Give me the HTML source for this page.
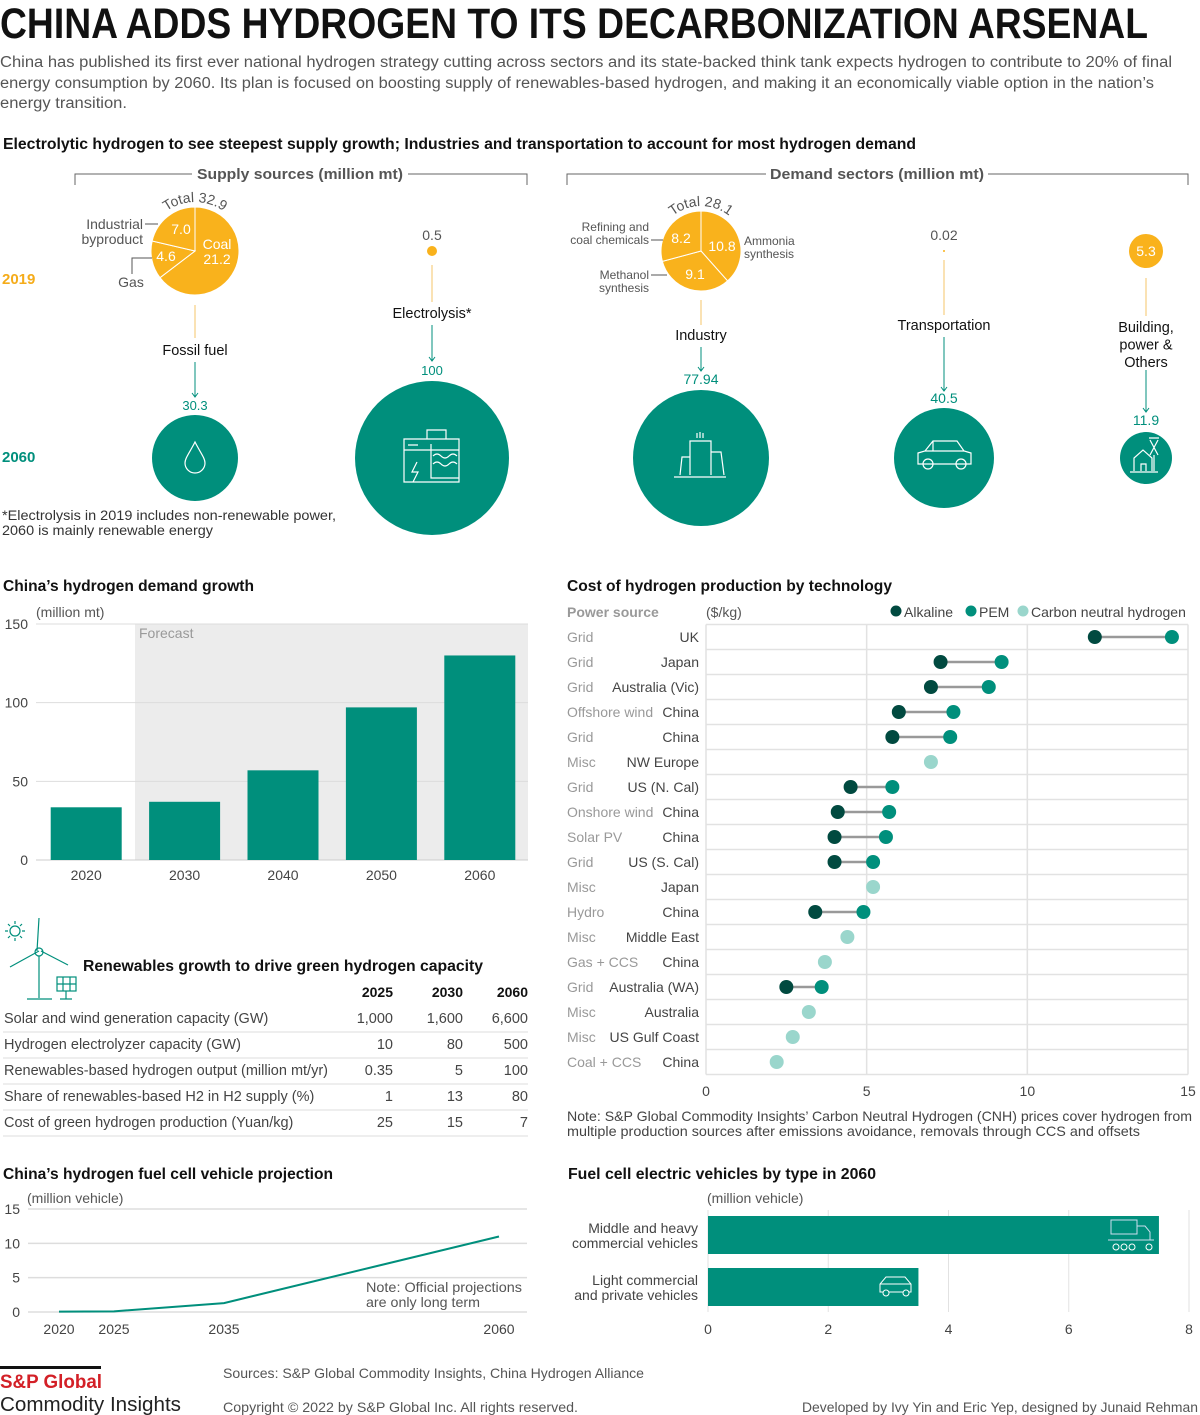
<!DOCTYPE html>
<html><head><meta charset="utf-8"><title>China adds hydrogen</title>
<style>
html,body{margin:0;padding:0;background:#fff;}
svg{display:block;font-family:"Liberation Sans",sans-serif;}
.b{font-weight:bold}
</style></head>
<body>
<svg id="root" width="1200" height="1415" viewBox="0 0 1200 1415" xmlns="http://www.w3.org/2000/svg">
<!-- Header -->
<text x="0" y="38" font-size="43" font-weight="bold" fill="#111" textLength="1148" lengthAdjust="spacingAndGlyphs">CHINA ADDS HYDROGEN TO ITS DECARBONIZATION ARSENAL</text>
<g font-size="15.5" fill="#555">
<text x="0" y="67" textLength="1172" lengthAdjust="spacingAndGlyphs">China has published its first ever national hydrogen strategy cutting across sectors and its state-backed think tank expects hydrogen to contribute to 20% of final</text>
<text x="0" y="88" textLength="1154" lengthAdjust="spacingAndGlyphs">energy consumption by 2060. Its plan is focused on boosting supply of renewables-based hydrogen, and making it an economically viable option in the nation’s</text>
<text x="0" y="108" textLength="127" lengthAdjust="spacingAndGlyphs">energy transition.</text>
</g>
<text x="3" y="149" font-size="15.5" font-weight="bold" fill="#111" textLength="913" lengthAdjust="spacingAndGlyphs">Electrolytic hydrogen to see steepest supply growth; Industries and transportation to account for most hydrogen demand</text>

<!-- brackets -->
<g stroke="#666" stroke-width="1" fill="none">
<path d="M75 185 V174 H192 M408 174 H527 V185"/>
</g>
<text x="300" y="179" font-size="15" font-weight="bold" fill="#555" text-anchor="middle" textLength="206" lengthAdjust="spacingAndGlyphs">Supply sources (million mt)</text>
<g stroke="#666" stroke-width="1" fill="none">
<path d="M567 185 V174 H766 M988 174 H1188 V185"/>
</g>
<text x="877" y="179" font-size="15" font-weight="bold" fill="#555" text-anchor="middle" textLength="214" lengthAdjust="spacingAndGlyphs">Demand sectors (million mt)</text>

<text x="2" y="284" font-size="15" font-weight="bold" fill="#f5ac1a">2019</text>
<text x="2" y="462" font-size="15" font-weight="bold" fill="#008f7c">2060</text>

<g id="pies"></g>
<g id="flows"></g>

<g font-size="14" fill="#333">
<text x="2" y="520" textLength="334" lengthAdjust="spacingAndGlyphs">*Electrolysis in 2019 includes non-renewable power,</text>
<text x="2" y="535" textLength="211" lengthAdjust="spacingAndGlyphs">2060 is mainly renewable energy</text>
</g>

<!-- Demand growth bar chart -->
<text x="3" y="591" font-size="15.5" font-weight="bold" fill="#111" textLength="251" lengthAdjust="spacingAndGlyphs">China’s hydrogen demand growth</text>
<text x="36" y="617" font-size="14" fill="#555">(million mt)</text>
<g id="barchart"></g>

<!-- Renewables table -->
<g stroke="#008f7c" stroke-width="1.2" fill="none">
<circle cx="15" cy="931" r="5"/>
<path d="M15 921v3M15 938v3M5 931h3M22 931h3M8 924l2 2M20 936l2 2M8 938l2-2M20 926l2-2"/>
<path d="M39 918 L37 951 M39 951 L10 967 M41 951 L68 965 M39 956 V998 M27 999 H52"/>
<circle cx="39" cy="952" r="4"/>
<rect x="57" y="977" width="19" height="14"/><path d="M63 977v14M70 977v14M57 984h19M66 991v8M60 999h12"/>
</g>
<text x="83" y="971" font-size="15.5" font-weight="bold" fill="#111" textLength="400" lengthAdjust="spacingAndGlyphs">Renewables growth to drive green hydrogen capacity</text>
<g id="table"></g>

<!-- Cost chart -->
<text x="567" y="591" font-size="15.5" font-weight="bold" fill="#111" textLength="325" lengthAdjust="spacingAndGlyphs">Cost of hydrogen production by technology</text>
<g id="costchart"></g>
<g font-size="14" fill="#444">
<text x="567" y="1121" textLength="625" lengthAdjust="spacingAndGlyphs">Note: S&amp;P Global Commodity Insights’ Carbon Neutral Hydrogen (CNH) prices cover hydrogen from</text>
<text x="567" y="1136" textLength="573" lengthAdjust="spacingAndGlyphs">multiple production sources after emissions avoidance, removals through CCS and offsets</text>
</g>

<!-- Line chart -->
<text x="3" y="1179" font-size="15.5" font-weight="bold" fill="#111" textLength="330" lengthAdjust="spacingAndGlyphs">China’s hydrogen fuel cell vehicle projection</text>
<text x="27" y="1203" font-size="14" fill="#555">(million vehicle)</text>
<g id="linechart"></g>
<g font-size="14" fill="#555">
<text x="366" y="1292" textLength="156" lengthAdjust="spacingAndGlyphs">Note: Official projections</text>
<text x="366" y="1307" textLength="114" lengthAdjust="spacingAndGlyphs">are only long term</text>
</g>

<!-- FCEV bars -->
<text x="568" y="1179" font-size="15.5" font-weight="bold" fill="#111" textLength="308" lengthAdjust="spacingAndGlyphs">Fuel cell electric vehicles by type in 2060</text>
<text x="707" y="1203" font-size="14" fill="#555">(million vehicle)</text>
<g id="fcevchart"></g>

<!-- Footer -->
<rect x="0" y="1366" width="101" height="3" fill="#111"/>
<text x="0" y="1388" font-size="19" font-weight="bold" fill="#d32027" textLength="102" lengthAdjust="spacingAndGlyphs">S&amp;P Global</text>
<text x="0" y="1411" font-size="20" fill="#222" textLength="181" lengthAdjust="spacingAndGlyphs">Commodity Insights</text>
<text x="223" y="1378" font-size="14" fill="#555" textLength="421" lengthAdjust="spacingAndGlyphs">Sources: S&amp;P Global Commodity Insights, China Hydrogen Alliance</text>
<text x="223" y="1412" font-size="14" fill="#555" textLength="355" lengthAdjust="spacingAndGlyphs">Copyright © 2022 by S&amp;P Global Inc. All rights reserved.</text>
<text x="1198" y="1412" font-size="14" fill="#555" text-anchor="end" textLength="396" lengthAdjust="spacingAndGlyphs">Developed by Ivy Yin and Eric Yep, designed by Junaid Rehman</text>
</svg>

<script>
// ===== Data =====
const supplyLabels = ["Coal","Gas","Industrial byproduct"];
const supplyValues = [21.2, 4.6, 7.0];
const demandLabels = ["Ammonia synthesis","Methanol synthesis","Refining and coal chemicals"];
const demandValues = [10.8, 9.1, 8.2];
const demandYears = ["2020","2030","2040","2050","2060"];
const demandTotals = [33.5, 37, 57, 97, 130];
const demandTicks = [0, 50, 100, 150];
const costCountries = ["UK","Japan","Australia (Vic)","China","China","NW Europe","US (N. Cal)","China","China","US (S. Cal)","Japan","China","Middle East","China","Australia (WA)","Australia","US Gulf Coast","China"];
const costSources = ["Grid","Grid","Grid","Offshore wind","Grid","Misc","Grid","Onshore wind","Solar PV","Grid","Misc","Hydro","Misc","Gas + CCS","Grid","Misc","Misc","Coal + CCS"];
const costAlkaline = [12.1,7.3,7.0,6.0,5.8,null,4.5,4.1,4.0,4.0,null,3.4,null,null,2.5,null,null,null];
const costPEM = [14.5,9.2,8.8,7.7,7.6,null,5.8,5.7,5.6,5.2,null,4.9,null,null,3.6,null,null,null];
const costCNH = [null,null,null,null,null,7.0,null,null,null,null,5.2,null,4.4,3.7,null,3.2,2.7,2.2];
const costTicks = [0,5,10,15];
const tableYears = ["2025","2030","2060"];
const tableRows = ["Solar and wind generation capacity (GW)","Hydrogen electrolyzer capacity (GW)","Renewables-based hydrogen output (million mt/yr)","Share of renewables-based H2 in H2 supply (%)","Cost of green hydrogen production (Yuan/kg)"];
const table2025 = ["1,000","10","0.35","1","25"];
const table2030 = ["1,600","80","5","13","15"];
const table2060 = ["6,600","500","100","80","7"];
const fcvYears = [2020, 2025, 2035, 2060];
const fcvValues = [0.05, 0.1, 1.3, 11];
const fcvTicks = [0,5,10,15];
const fcevTypes = ["Middle and heavy|commercial vehicles","Light commercial|and private vehicles"];
const fcevValues = [7.5, 3.5];
const fcevTicks = [0,2,4,6,8];

const NS = "http://www.w3.org/2000/svg";
const TEAL = "#008f7c", ORANGE = "#f9b21c", DARK = "#014a40", LIGHT = "#9ad6cc";
function mk(parent, tag, attrs, txt){
  const e = document.createElementNS(NS, tag);
  for (const k in attrs) e.setAttribute(k, attrs[k]);
  if (txt !== undefined) e.textContent = txt;
  parent.appendChild(e); return e;
}
function pt(cx,cy,r,a){return [cx + r*Math.sin(a), cy - r*Math.cos(a)];}

// ===== Pies =====
const pies = document.getElementById('pies');
function drawPie(cx, cy, r, vals, names, totalText){
  const tot = vals.reduce((a,b)=>a+b,0);
  let a0 = 0;
  vals.forEach((v,i)=>{
    const a1 = a0 + v/tot*2*Math.PI;
    const p0 = pt(cx,cy,r,a0), p1 = pt(cx,cy,r,a1);
    const p = mk(pies,'path',{d:`M${cx} ${cy} L${p0[0]} ${p0[1]} A${r} ${r} 0 ${a1-a0>Math.PI?1:0} 1 ${p1[0]} ${p1[1]} Z`, fill:ORANGE, stroke:'#fff','stroke-width':1});
    
    
    a0 = a1;
  });
  const id = 'arc'+cx;
  const rr = r+5;
  const s = pt(cx,cy,rr,-0.75), e2 = pt(cx,cy,rr,0.75);
  mk(pies,'path',{id:id, d:`M${s[0]} ${s[1]} A${rr} ${rr} 0 0 1 ${e2[0]} ${e2[1]}`, fill:'none'});
  const t = mk(pies,'text',{'font-size':14, fill:'#555'});
  
  
  mk(t,'textPath',{href:'#'+id, startOffset:'50%', 'text-anchor':'middle'}, totalText);
}
drawPie(195, 251, 44, supplyValues, supplyLabels, "Total 32.9");
drawPie(701, 251, 40, demandValues, demandLabels, "Total 28.1");

function txt(parent, x, y, s, attrs, name){
  const a = Object.assign({x:x, y:y}, attrs);
  const t = mk(parent,'text',a,s);
  
  
  return t;
}
const W = {fill:'#fff','font-size':14,'text-anchor':'middle'};
txt(pies,181,234,"7.0",W,'supply-industrial-value');
txt(pies,217,249,"Coal",W,'supply-coal-label');
txt(pies,217,264,"21.2",W,'supply-coal-value');
txt(pies,166,261,"4.6",W,'supply-gas-value');
const G = {fill:'#555','font-size':14,'text-anchor':'end'};
txt(pies,143,229,"Industrial",G,'supply-industrial-label');
txt(pies,143,244,"byproduct",G,'supply-industrial-label-2');
txt(pies,131,287,"Gas",{fill:'#555','font-size':14,'text-anchor':'middle'},'supply-gas-label');
mk(pies,'path',{d:'M145 224 H158 M132 274 V258 H152', stroke:'#555', fill:'none'});

txt(pies,681,243,"8.2",W,'demand-refining-value');
txt(pies,722,251,"10.8",W,'demand-ammonia-value');
txt(pies,695,279,"9.1",W,'demand-methanol-value');
const G2 = {fill:'#555','font-size':12,'text-anchor':'end'};
txt(pies,649,231,"Refining and",G2,'demand-refining-label');
txt(pies,649,244,"coal chemicals",G2,'demand-refining-label-2');
txt(pies,649,279,"Methanol",G2,'demand-methanol-label');
txt(pies,649,292,"synthesis",G2,'demand-methanol-label-2');
txt(pies,744,245,"Ammonia",{fill:'#555','font-size':12},'demand-ammonia-label');
txt(pies,744,258,"synthesis",{fill:'#555','font-size':12},'demand-ammonia-label-2');
mk(pies,'path',{d:'M651 240 H663 M651 275 H667', stroke:'#555', fill:'none'});

// ===== Flows: 2019 dot -> label -> 2060 circle =====
const flows = document.getElementById('flows');
const flowNames = ["fossil-fuel","electrolysis","industry","transportation","building"];
const flowX = [195, 432, 701, 944, 1146];
const flow2019 = ["", "0.5", "", "0.02", "5.3"];
const flow2060 = ["30.3","100","77.94","40.5","11.9"];
const flowR = [43, 77, 68, 50, 26];
const flowLabels = [["Fossil fuel"],["Electrolysis*"],["Industry"],["Transportation"],["Building,","power &","Others"]];
const geo = [
 {o0:305,o1:338,ly:355,t0:362,t1:397,vy:410,vs:13},
 {o0:265,o1:302,ly:318,t0:325,t1:361,vy:375,vs:13},
 {o0:300,o1:325,ly:340,t0:347,t1:371,vy:384,vs:14},
 {o0:260,o1:315,ly:330,t0:337,t1:391,vy:403,vs:14},
 {o0:278,o1:316,ly:332,t0:370,t1:412,vy:425,vs:14}
];
flowX.forEach((x,i)=>{
  const g = geo[i];
  mk(flows,'line',{x1:x,y1:g.o0,x2:x,y2:g.o1,stroke:'#f4c56a','stroke-width':1});
  mk(flows,'line',{x1:x,y1:g.t0,x2:x,y2:g.t1,stroke:TEAL,'stroke-width':1});
  mk(flows,'path',{d:`M${x-3} ${g.t1-4} L${x} ${g.t1} L${x+3} ${g.t1-4}`,stroke:TEAL,fill:'none'});
  flowLabels[i].forEach((l,j)=>txt(flows,x,g.ly+j*17.5,l,{'font-size':14.5,fill:'#111','text-anchor':'middle'},'flow-label-'+flowNames[i]));
  txt(flows,x,g.vy,flow2060[i],{'font-size':g.vs,fill:TEAL,'text-anchor':'middle'},'value-2060-'+flowNames[i]);
  const c = mk(flows,'circle',{cx:x,cy:458,r:flowR[i],fill:TEAL});
  
  
});
// 2019 small dots
mk(flows,'circle',{cx:432,cy:251,r:5,fill:ORANGE});
txt(flows,432,240,"0.5",{'font-size':14,fill:'#555','text-anchor':'middle'},'value-2019-electrolysis');
mk(flows,'circle',{cx:944,cy:251,r:1,fill:ORANGE});
txt(flows,944,240,"0.02",{'font-size':14,fill:'#555','text-anchor':'middle'},'value-2019-transportation');
mk(flows,'circle',{cx:1146,cy:251,r:17,fill:ORANGE});
txt(flows,1146,256,"5.3",{'font-size':14,fill:'#fff','text-anchor':'middle'},'value-2019-building');
// icons
const IC = {stroke:'#fff',fill:'none','stroke-width':1.2};
mk(flows,'path',Object.assign({d:'M195 442 C190 452 185 458 185 463 A10 10 0 0 0 205 463 C205 458 200 452 195 442 Z'},IC));
mk(flows,'path',Object.assign({d:'M404 439 H459 V482 H404 Z M404 450 H459 M427 439 V430 H446 V439 M431 444 V478 H459 M417 462 L412 472 L418 472 L413 482 M433 456 Q437 452 441 456 Q445 460 449 456 Q453 452 457 456 M433 464 Q437 460 441 464 Q445 468 449 464 Q453 460 457 464 M408 445 H418'},IC));
mk(flows,'path',Object.assign({d:'M674 477 H726 M680 475 L682 457 H690 L690 475 M690 475 V441 H711 V475 M711 452 H721 L724 475 M697 433 V438 M700 432 V438 M703 433 V438'},IC));
mk(flows,'path',Object.assign({d:'M918 462 V453 L925 451 L933 441 H957 L964 451 L971 453 V464 H918 Z M933 441 V451 M925 451 H964'},IC));
mk(flows,'circle',Object.assign({cx:928,cy:464,r:5},IC));
mk(flows,'circle',Object.assign({cx:961,cy:464,r:5},IC));
mk(flows,'path',Object.assign({d:'M1134 471 V458 L1143 450 L1152 458 V471 M1130 472 H1158 M1141 471 V464 H1146 V471 M1150 440 L1158 455 M1158 440 L1150 455 M1149 438 H1159 M1154 455 V471'},IC));

// ===== Demand growth bar chart =====
const bc = document.getElementById('barchart');
const bx0 = 36, bx1 = 528, by0 = 860, byTop = 624;
const yB = v => by0 - v/150*(by0-byTop);
const bandW = (bx1-bx0)/demandYears.length;
mk(bc,'rect',{x:135,y:byTop,width:bx1-135,height:by0-byTop,fill:'#ececec'});
txt(bc,139,638,"Forecast",{'font-size':14,fill:'#999'},'forecast-label');
demandTicks.forEach(t=>{
  mk(bc,'line',{x1:bx0,x2:bx1,y1:yB(t),y2:yB(t),stroke:t===0?'#ccc':'#ddd','stroke-width':1});
  txt(bc,28,yB(t)+5,String(t),{'font-size':14,fill:'#444','text-anchor':'end'},'y-tick-'+t);
});
demandYears.forEach((y,i)=>{
  const cx = bx0 + bandW*(i+0.5) + 1;
  const r = mk(bc,'rect',{x:cx-35.5,y:yB(demandTotals[i]),width:71,height:by0-yB(demandTotals[i]),fill:TEAL});
  
  
  txt(bc,cx,880,y,{'font-size':14,fill:'#444','text-anchor':'middle'},'x-tick-'+y);
});

// ===== Table =====
const tb = document.getElementById('table');
const colX = [393, 463, 528];
tableYears.forEach((y,j)=>txt(tb,colX[j],997,y,{'font-size':14,'font-weight':'bold',fill:'#111','text-anchor':'end'},'table-header-'+y));
const cols = [table2025, table2030, table2060];
tableRows.forEach((r,i)=>{
  const y = 1023 + i*26;
  txt(tb,4,y,r,{'font-size':14.5,fill:'#444'},'table-row-label');
  cols.forEach((c,j)=>txt(tb,colX[j],y,c[i],{'font-size':14.5,fill:'#444','text-anchor':'end'},'table-cell'));
  mk(tb,'line',{x1:3,x2:528,y1:y+9,y2:y+9,stroke:'#ddd'});
});

// ===== Cost chart =====
const cc = document.getElementById('costchart');
const cx0 = 706, cx1 = 1188, cyTop = 624.5, rowH = 25;
const xC = v => cx0 + v/15*(cx1-cx0);
const cyBot = cyTop + rowH*costCountries.length;
txt(cc,567,617,"Power source",{'font-size':14,'font-weight':'bold',fill:'#999'},'power-source-header');
txt(cc,706,617,"($/kg)",{'font-size':14,fill:'#555'},'cost-unit');
// legend
const lg = [[DARK,"Alkaline",896],[TEAL,"PEM",971],[LIGHT,"Carbon neutral hydrogen",1023]];
lg.forEach(l=>{
  mk(cc,'circle',{cx:l[2],cy:611,r:5.5,fill:l[0]});
  txt(cc,l[2]+8,617,l[1],{'font-size':14,fill:'#444'},'legend-'+l[1].toLowerCase().replace(/ /g,'-'));
});
costTicks.forEach(t=>{
  mk(cc,'line',{x1:xC(t),x2:xC(t),y1:cyTop,y2:cyBot,stroke:'#e2e2e2','stroke-width':1.5});
  txt(cc,xC(t),1096,String(t),{'font-size':14,fill:'#444','text-anchor':'middle'},'cost-x-tick-'+t);
});
costCountries.forEach((c,i)=>{
  const y = cyTop + rowH*i;
  mk(cc,'line',{x1:cx0,x2:cx1,y1:y,y2:y,stroke:'#e2e2e2','stroke-width':1.5});
  const ym = y + rowH/2;
  txt(cc,567,ym+5,costSources[i],{'font-size':14,fill:'#999'},'power-source-label');
  txt(cc,699,ym+5,c,{'font-size':14,fill:'#444','text-anchor':'end'},'country-label');
  if (costAlkaline[i]!==null && costPEM[i]!==null)
    mk(cc,'line',{x1:xC(costAlkaline[i]),x2:xC(costPEM[i]),y1:ym,y2:ym,stroke:'#999','stroke-width':2.5});
  if (costAlkaline[i]!==null){
    const d = mk(cc,'circle',{cx:xC(costAlkaline[i]),cy:ym,r:7,fill:DARK});
    
    
  }
  if (costPEM[i]!==null){
    const d = mk(cc,'circle',{cx:xC(costPEM[i]),cy:ym,r:7,fill:TEAL});
    
    
  }
  if (costCNH[i]!==null){
    const d = mk(cc,'circle',{cx:xC(costCNH[i]),cy:ym,r:7,fill:LIGHT});
    
    
  }
});
mk(cc,'line',{x1:cx0,x2:cx1,y1:cyBot,y2:cyBot,stroke:'#e2e2e2','stroke-width':1.5});

// ===== Line chart =====
const lc = document.getElementById('linechart');
const lx = yr => 59 + (yr-2020)*11;
const ly = v => 1312 - v/15*(1312-1209);
fcvTicks.forEach(t=>{
  mk(lc,'line',{x1:28,x2:527,y1:ly(t),y2:ly(t),stroke:'#ddd','stroke-width':1.5});
  txt(lc,20,ly(t)+5,String(t),{'font-size':14,fill:'#444','text-anchor':'end'},'fcv-y-tick-'+t);
});
fcvYears.forEach(y=>txt(lc,lx(y),1334,String(y),{'font-size':14,fill:'#444','text-anchor':'middle'},'fcv-x-tick-'+y));
const line = mk(lc,'polyline',{points:fcvYears.map((y,i)=>lx(y)+','+ly(fcvValues[i])).join(' '),fill:'none',stroke:TEAL,'stroke-width':2});



// ===== FCEV bars =====
const fc = document.getElementById('fcevchart');
const fx = v => 708 + v/8*(1189-708);
fcevTicks.forEach(t=>{
  mk(fc,'line',{x1:fx(t),x2:fx(t),y1:1210,y2:1312,stroke:'#e2e2e2','stroke-width':1});
  txt(fc,fx(t),1334,String(t),{'font-size':14,fill:'#444','text-anchor':'middle'},'fcev-x-tick-'+t);
});
const fyTop = [1216, 1268];
fcevTypes.forEach((t,i)=>{
  const r = mk(fc,'rect',{x:fx(0),y:fyTop[i],width:fx(fcevValues[i])-fx(0),height:38,fill:TEAL});
  
  
  const parts = t.split('|');
  txt(fc,698,fyTop[i]+17,parts[0],{'font-size':14,fill:'#444','text-anchor':'end'},'fcev-category');
  txt(fc,698,fyTop[i]+32,parts[1],{'font-size':14,fill:'#444','text-anchor':'end'},'fcev-category-2');
});
mk(fc,'path',Object.assign({d:'M1111 1220 H1137 V1234 H1111 Z M1137 1226 H1145 L1150 1232 V1240 H1137 M1108 1240 H1154'},{stroke:'#cde',fill:'none','stroke-width':1}));
[1116,1124,1132,1149].forEach(c=>mk(fc,'circle',{cx:c,cy:1247,r:3,stroke:'#fff',fill:'none'}));
mk(fc,'path',{d:'M880 1292 V1284 L886 1277 H905 L911 1284 V1292 Z M880 1284 H911',stroke:'#fff',fill:'none','stroke-width':1});
mk(fc,'circle',{cx:886,cy:1293,r:3,stroke:'#fff',fill:TEAL});
mk(fc,'circle',{cx:906,cy:1293,r:3,stroke:'#fff',fill:TEAL});
</script>
</body></html>
